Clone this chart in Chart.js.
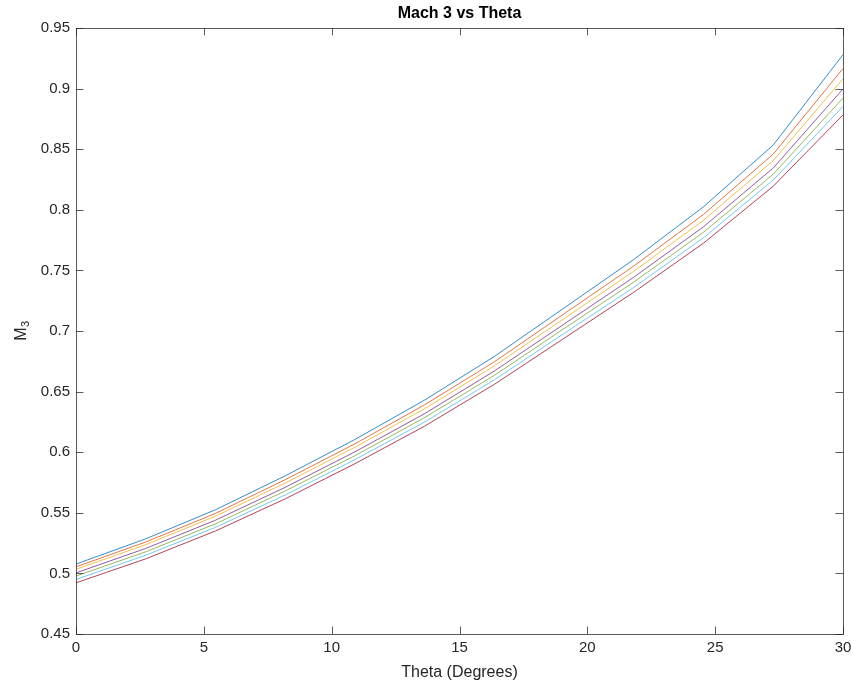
<!DOCTYPE html>
<html>
<head>
<meta charset="utf-8">
<title>Mach 3 vs Theta</title>
<script src="https://cdn.jsdelivr.net/npm/chart.js@4/dist/chart.umd.min.js"></script>
<style>
  html, body { margin: 0; padding: 0; background: #ffffff; }
  #wrap { width: 854px; height: 685px; }
</style>
</head>
<body>
<div id="wrap"><canvas id="c" width="854" height="685"></canvas></div>
<script>
// Deflection angle samples (degrees), 12 points from 0 to 30
const theta = [0, 2.727, 5.455, 8.182, 10.909, 13.636, 16.364, 19.091, 21.818, 24.545, 27.273, 30];

// M3 for each case
const m3Case1 = [0.5077, 0.5285, 0.5525, 0.5805, 0.6105, 0.6430, 0.6790, 0.7190, 0.7590, 0.8025, 0.8535, 0.9280];
const m3Case2 = [0.5054, 0.5259, 0.5495, 0.5773, 0.6069, 0.6391, 0.6746, 0.7142, 0.7536, 0.7962, 0.8460, 0.9166];
const m3Case3 = [0.5034, 0.5237, 0.5472, 0.5746, 0.6041, 0.6359, 0.6712, 0.7102, 0.7493, 0.7914, 0.8406, 0.9081];
const m3Case4 = [0.5004, 0.5206, 0.5439, 0.5710, 0.6003, 0.6318, 0.6670, 0.7057, 0.7444, 0.7860, 0.8345, 0.8997];
const m3Case5 = [0.4978, 0.5178, 0.5409, 0.5680, 0.5971, 0.6286, 0.6634, 0.7020, 0.7404, 0.7815, 0.8294, 0.8922];
const m3Case6 = [0.4950, 0.5150, 0.5380, 0.5647, 0.5939, 0.6249, 0.6597, 0.6980, 0.7360, 0.7770, 0.8246, 0.8853];
const m3Case7 = [0.4922, 0.5120, 0.5350, 0.5615, 0.5905, 0.6215, 0.6560, 0.6940, 0.7320, 0.7725, 0.8195, 0.8783];

const seriesList = [m3Case1, m3Case2, m3Case3, m3Case4, m3Case5, m3Case6, m3Case7];
const seriesColors = [
  'rgba(0,114,189,0.8)', 'rgba(217,83,25,0.8)', 'rgba(237,177,32,0.8)',
  'rgba(126,47,142,0.8)', 'rgba(119,172,48,0.8)', 'rgba(77,190,238,0.8)',
  'rgba(162,20,47,0.8)'
];

// Axis ticks
const xTicks = [0, 5, 10, 15, 20, 25, 30];
const yTicks = [0.45, 0.5, 0.55, 0.6, 0.65, 0.7, 0.75, 0.8, 0.85, 0.9, 0.95];

const chartTitle = 'Mach 3 vs Theta';
const yTitleMain = 'M';
const yTitleSub = '3';

const axisColor = '#262626';
const fontFamily = '"Liberation Sans", Arial, Helvetica, sans-serif';

// Box outline with inward tick marks, plot title and the subscripted y label
const boxTicks = {
  id: 'boxTicks',
  afterDraw(chart) {
    const { ctx, chartArea: a, scales: { x, y } } = chart;
    const len = 7.5;
    ctx.save();
    ctx.strokeStyle = 'rgba(38,38,38,0.75)';
    ctx.lineWidth = 1;
    ctx.beginPath();
    xTicks.forEach(v => {
      const px = Math.round(x.getPixelForValue(v)) + 0.5;
      ctx.moveTo(px, a.bottom); ctx.lineTo(px, a.bottom - len);
      ctx.moveTo(px, a.top); ctx.lineTo(px, a.top + len);
    });
    yTicks.forEach(v => {
      const py = Math.round(y.getPixelForValue(v)) + 0.5;
      ctx.moveTo(a.left, py); ctx.lineTo(a.left + len, py);
      ctx.moveTo(a.right, py); ctx.lineTo(a.right - len, py);
    });
    ctx.stroke();
    ctx.strokeRect(Math.round(a.left) + 0.5, Math.round(a.top) + 0.5,
                   Math.round(a.right - a.left), Math.round(a.bottom - a.top));

    // title centred over the plot box
    ctx.fillStyle = '#000000';
    ctx.font = 'bold 16px ' + fontFamily;
    ctx.textAlign = 'center';
    ctx.textBaseline = 'middle';
    ctx.fillText(chartTitle, (a.left + a.right) / 2, 14);

    // y label: M with subscript 3, rotated
    ctx.translate(20, (a.top + a.bottom) / 2);
    ctx.rotate(-Math.PI / 2);
    ctx.fillStyle = axisColor;
    ctx.font = '16px ' + fontFamily;
    ctx.textAlign = 'left';
    ctx.textBaseline = 'alphabetic';
    const mW = ctx.measureText(yTitleMain).width;
    ctx.font = '11px ' + fontFamily;
    const sW = ctx.measureText(yTitleSub).width;
    const x0 = -(mW + sW) / 2;
    ctx.font = '16px ' + fontFamily;
    ctx.fillText(yTitleMain, x0, 6);
    ctx.font = '11px ' + fontFamily;
    ctx.fillText(yTitleSub, x0 + mW + 0.5, 9);
    ctx.restore();
  }
};

new Chart(document.getElementById('c'), {
  type: 'line',
  data: {
    datasets: seriesList.map((vals, i) => ({
      data: theta.map((t, j) => ({ x: t, y: vals[j] })),
      borderColor: seriesColors[i],
      borderWidth: 1,
      pointRadius: 0,
      tension: 0,
      fill: false
    }))
  },
  options: {
    responsive: false,
    animation: false,
    layout: { padding: { left: 0, right: 11, top: 28, bottom: 0 } },
    plugins: {
      legend: { display: false },
      tooltip: { enabled: false },
      title: { display: false }
    },
    scales: {
      x: {
        type: 'linear',
        min: 0, max: 30,
        afterBuildTicks: s => { s.ticks = xTicks.map(v => ({ value: v })); },
        afterFit: s => { s.height = 51; s.paddingRight = 0; s.paddingLeft = 0; },
        grid: { display: false, drawTicks: false },
        border: { display: false },
        ticks: {
          color: axisColor,
          padding: 5,
          maxRotation: 0,
          font: { family: fontFamily, size: 15 },
          callback: v => String(v)
        },
        title: {
          display: true,
          text: 'Theta (Degrees)',
          color: axisColor,
          font: { family: fontFamily, size: 16 },
          padding: { top: 0, bottom: 2.4 }
        }
      },
      y: {
        type: 'linear',
        min: 0.45, max: 0.95,
        afterBuildTicks: s => { s.ticks = yTicks.map(v => ({ value: v })); },
        afterFit: s => { s.width = 76; },
        grid: { display: false, drawTicks: false },
        border: { display: false },
        ticks: {
          color: axisColor,
          padding: 6,
          font: { family: fontFamily, size: 15 },
          callback: v => String(+Number(v).toFixed(2))
        },
        title: { display: false }
      }
    }
  },
  plugins: [boxTicks]
});
</script>
</body>
</html>
